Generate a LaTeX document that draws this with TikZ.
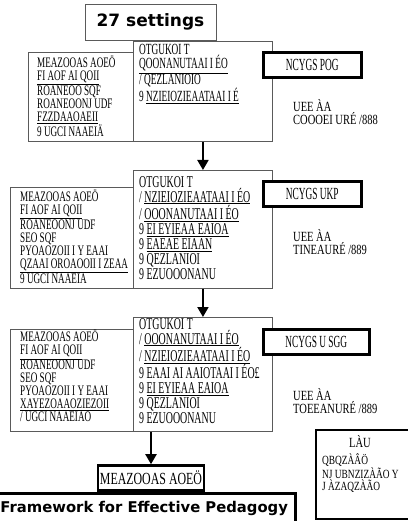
\documentclass[tikz,border=0pt]{standalone}
\usepackage{fontspec}
\setmainfont{Liberation Serif}
\newfontfamily\headfont{DejaVu Sans}
\newfontfamily\ctxfont{Liberation Serif}[FakeStretch=0.63]
\newfontfamily\resfont{Liberation Serif}[FakeStretch=0.6]
\newfontfamily\sidefont{Liberation Serif}[FakeStretch=0.75]
\newfontfamily\phasefont{Liberation Serif}[FakeStretch=0.55]
\newfontfamily\framefont{Liberation Serif}[FakeStretch=0.7]
\usetikzlibrary{arrows.meta,positioning}
\definecolor{ink}{HTML}{000000}
\definecolor{boxGrey}{HTML}{5A5A5A}
\tikzset{
  >={Triangle[length=10pt,width=11pt]},
  thinbox/.style={draw=boxGrey,line width=0.9pt,fill=white,anchor=north west,inner sep=0pt},
  phasebox/.style={draw=ink,line width=2.6pt,fill=white,inner sep=0pt,
    font=\phasefont\fontsize{17}{17}\selectfont},
  headbox/.style={draw=ink,line width=2.6pt,fill=white,inner sep=0pt,
    font=\headfont\bfseries\fontsize{14.8}{16}\selectfont},
  ctxtxt/.style={font=\ctxfont\fontsize{14.5}{13}\selectfont,align=left,anchor=north west,inner sep=0pt},
  restxt/.style={font=\resfont\fontsize{16.5}{15}\selectfont,align=left,anchor=north west,inner sep=0pt},
  sidetxt/.style={font=\sidefont\fontsize{14}{11.5}\selectfont,align=left,anchor=north west,inner sep=0pt},
  flow/.style={->,line width=2pt,ink},
}
\newcommand{\uln}[1]{\underline{#1}}

\begin{document}
\begin{tikzpicture}[x=1pt,y=-1pt]
\useasboundingbox (0,0) rectangle (407,521);

\node[thinbox,anchor=center,minimum width=131pt,minimum height=36pt,
  font=\headfont\bfseries\fontsize{17}{17}\selectfont] (count) at (150.5,22) {27 settings};

% ================= ROW 1 =================
\node[thinbox,minimum width=105pt,minimum height=89pt] (ctx1) at (28,52) {};
\node[thinbox,minimum width=139pt,minimum height=100pt] (res1) at (133,41) {};
\node[ctxtxt] (ctx1txt) at (37,56) {MEAZOOAS AOEÖ\\ \uln{FI AOF AI QOII}\\ ROANEOO SQF\\ ROANEOONJ UDF\\ \uln{FZZDAAOAEII}\\ 9 UGCI NAAEIÄ};
\node[restxt,font=\resfont\fontsize{15.5}{13}\selectfont] (res1txt) at (139,44) {OTGUKOI T\\ \uln{QOONANUTAAI I ÉO}\\ / QEZLANIOIO\\ 9 \uln{NZIEIOZIEAATAAI I É}};
\node[phasebox,minimum width=98pt,minimum height=25pt,anchor=north west] (ph1) at (262,51) {NCYGS POG};
\node[sidetxt] (yr1) at (293,99) {UEE ÀA\\ COOOEI URÉ /888};

% ================= ROW 2 =================
\node[thinbox,minimum width=123pt,minimum height=101pt] (ctx2) at (10,187) {};
\node[thinbox,minimum width=139pt,minimum height=118pt] (res2) at (133,170) {};
\node[ctxtxt] (ctx2txt) at (20,190) {MEAZOOAS AOEÖ\\ \uln{FI AOF AI QOII}\\ ROANEOONJ UDF\\ SEO SQF\\ PYOAOZOII I Y EAAI\\ \uln{QZAAI OROAOOII I ZEAA}\\ 9 UGCI NAAEIA};
\node[restxt] (res2txt) at (139,176) {OTGUKOI T\\ / \uln{NZIEIOZIEAATAAI I ÉO}\\ / \uln{OOONANUTAAI I ÉO}\\ 9 \uln{EI EYIEAA EAIOA}\\ 9 \uln{EAEAE EIAAN}\\ 9 QEZLANIOI\\ 9 EZUOOONANU};
\node[phasebox,minimum width=98pt,minimum height=25pt,anchor=north west] (ph2) at (262,180) {NCYGS UKP};
\node[sidetxt] (yr2) at (293,229) {UEE ÀA\\ TINEAURÉ /889};

% ================= ROW 3 =================
\node[thinbox,minimum width=123pt,minimum height=102pt] (ctx3) at (10,329) {};
\node[thinbox,minimum width=139pt,minimum height=114pt] (res3) at (133,317) {};
\node[ctxtxt] (ctx3txt) at (20,330) {MEAZOOAS AOEÖ\\ \uln{FI AOF AI QOII}\\ ROANEOONJ UDF\\ SEO SQF\\ PYOAOZOII I Y EAAI\\ \uln{XAYEZOAAOZIEZOII}\\ / UGCI NAAEIAO};
\node[restxt] (res3txt) at (139,318) {OTGUKOI T\\ / \uln{OOONANUTAAI I ÉO}\\ / \uln{NZIEIOZIEAATAAI I ÉO}\\ 9 EAAI AI AAIOTAAI I ÉO£\\ 9 \uln{EI EYIEAA EAIOA}\\ 9 QEZLANIOI\\ 9 EZUOOONANU};
\node[phasebox,minimum width=106pt,minimum height=25pt,anchor=north west] (ph3) at (262,328) {NCYGS U SGG};
\node[sidetxt] (yr3) at (293,388) {UEE ÀA\\ TOEEANURÉ /889};

% ================= BOTTOM =================
\node[phasebox,font=\framefont\fontsize{17}{17}\selectfont,minimum width=106pt,minimum height=25pt] (frame) at (151,478) {MEAZOOAS AOEÖ};
\node[headbox,minimum width=303pt,minimum height=31pt,anchor=north east] (fep) at (297,492) {Framework for Effective Pedagogy};

\node[draw=ink,line width=2pt,fill=white,anchor=north west,inner sep=0pt,
  minimum width=100pt,minimum height=89pt] (key) at (315,429) {};
\node[sidetxt,anchor=center] (keyhead) at (360,442) {LÀU};
\node[sidetxt,font=\sidefont\fontsize{12.5}{9.5}\selectfont] (keytxt) at (322,454) {QBQZÀÂÖ\\ NJ UBNZIZÀÃO Y\\ J ÀZAQZÀÃO};

\draw[flow] (res1.south) -- (res2.north);
\draw[flow] (res2.south) -- (res3.north);
\draw[flow] (frame.north |- res3.south) -- (frame.north);

\end{tikzpicture}
\end{document}
